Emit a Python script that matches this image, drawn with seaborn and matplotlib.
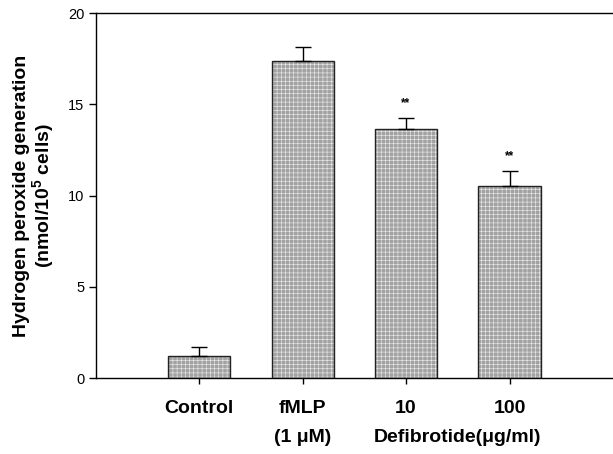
import matplotlib
matplotlib.use("Agg")
import matplotlib.pyplot as plt
import seaborn as sns
import pandas as pd
import numpy as np

categories = ["Control", "fMLP", "10", "100"]
second_row = ["(1 μM)", "Defibrotide(μg/ml)"]
values = [1.20, 17.38, 13.63, 10.52]
errors = [0.53, 0.78, 0.64, 0.85]
stars = ["", "", "**", "**"]
yticks = [0, 5, 10, 15, 20]

sns.set_theme(style="ticks")
plt.rcParams["font.family"] = ["Liberation Sans", "DejaVu Sans"]
plt.rcParams["mathtext.fontset"] = "custom"
plt.rcParams["mathtext.rm"] = "Liberation Sans"
plt.rcParams["mathtext.bf"] = "Liberation Sans:bold"
plt.rcParams["hatch.linewidth"] = 0.4
plt.rcParams["text.color"] = "black"
plt.rcParams["xtick.color"] = "black"
plt.rcParams["ytick.color"] = "black"
plt.rcParams["axes.labelcolor"] = "black"

df = pd.DataFrame({"cat": categories, "val": values})

fig = plt.figure(figsize=(6.13, 4.54), dpi=100)
ax = fig.add_axes([0.156, 0.167, 0.844, 0.804])

sns.barplot(data=df, x="cat", y="val", ax=ax, color="#a2a2a2", width=0.6,
            saturation=1, edgecolor="black", linewidth=1.0)
for p in ax.patches:
    p.set_hatch("++++")
    p.set_edgecolor("#eeeeee")
    p.set_linewidth(0)
sns.barplot(data=df, x="cat", y="val", ax=ax, fill=False, width=0.6,
            edgecolor="#222222", linewidth=1.0)

x = np.arange(len(categories))
ax.errorbar(x, values, yerr=[np.zeros(len(values)), errors], fmt="none",
            ecolor="black", elinewidth=1.0, capsize=6, capthick=1.0)

for xi, v, e, s in zip(x, values, errors, stars):
    if s:
        ax.text(xi, v + e + 0.45, s, ha="center", va="bottom",
                fontsize=8.5, fontweight="bold")

ax.set_xlim(-1, 4)
ax.set_ylim(0, 20)
ax.set_yticks(yticks)
ax.set_yticklabels([str(t) for t in yticks], fontsize=10.5)
ax.set_xticks(x)
ax.set_xticklabels(categories, fontsize=14, fontweight="bold")
ax.tick_params(axis="x", length=4, width=1, pad=12)
ax.tick_params(axis="y", length=5, width=1, pad=3)

ax.text(1, -0.162, second_row[0], transform=ax.get_xaxis_transform(),
        ha="center", va="center", fontsize=14, fontweight="bold")
ax.text(2.5, -0.162, second_row[1], transform=ax.get_xaxis_transform(),
        ha="center", va="center", fontsize=14, fontweight="bold")

ax.set_xlabel("")
ax.set_ylabel("Hydrogen peroxide generation\n(nmol/10$^{\\mathbf{5}}$ cells)",
              fontsize=14, fontweight="bold", labelpad=8, linespacing=1.0)

for sp in ["left", "top", "bottom"]:
    ax.spines[sp].set_visible(True)
    ax.spines[sp].set_linewidth(1.0)
    ax.spines[sp].set_color("black")
ax.spines["right"].set_visible(False)

fig.savefig("out.png", dpi=100)
